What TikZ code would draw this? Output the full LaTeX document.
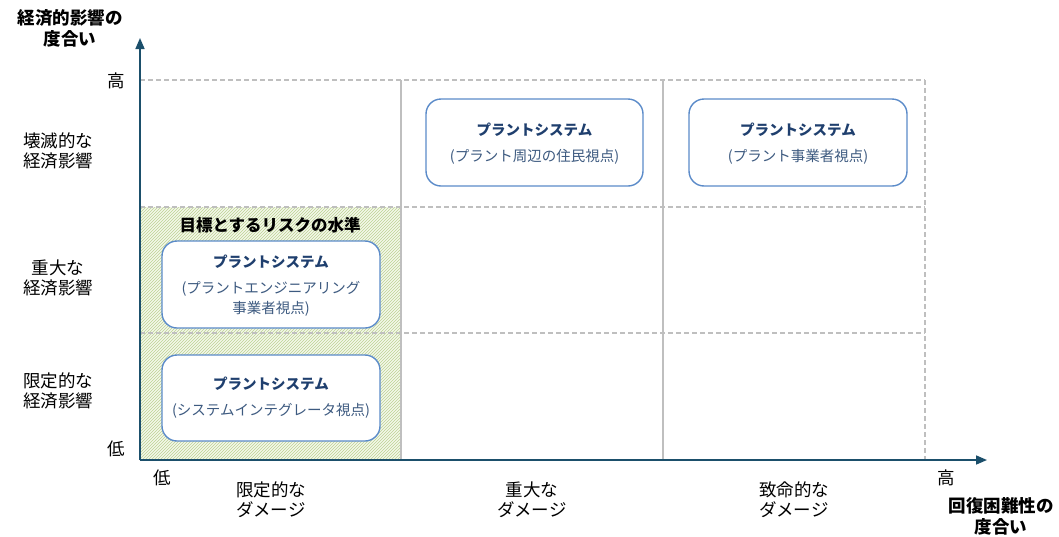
\documentclass[tikz,border=0pt]{standalone}
\usepackage{fontspec}
\setmainfont{Noto Sans CJK JP}
\usetikzlibrary{patterns,arrows.meta}
\definecolor{axiscol}{HTML}{1B4F6B}
\definecolor{gridcol}{HTML}{BFBFBF}
\definecolor{boxborder}{HTML}{5B8BC9}
\definecolor{titlecol}{HTML}{1F3F6E}
\definecolor{subcol}{HTML}{3D5A80}
\definecolor{hatchcol}{HTML}{BCD293}
\definecolor{hatchbg}{HTML}{F4F8EA}
\begin{document}
\begin{tikzpicture}[x=1pt,y=-1pt,
  ax/.style={draw=axiscol,line width=1.6pt,-{Triangle[length=11pt,width=9pt]}},
  gridsolid/.style={draw=gridcol,line width=1.3pt},
  griddash/.style={draw=gridcol,line width=1.3pt,dash pattern=on 5pt off 3pt},
  lbl/.style={font=\fontsize{17.5}{20}\selectfont,align=center,text=black},
  bold/.style={font=\fontsize{17.5}{21}\selectfont\bfseries,align=center,text=black},
  tbold/.style={font=\fontsize{16.5}{20}\selectfont\bfseries,align=center,text=black},
  pbox/.style={draw=boxborder,line width=1.4pt,fill=white,rounded corners=15pt},
  ptitle/.style={font=\fontsize{14.5}{16}\selectfont\bfseries,text=titlecol,align=center},
  psub/.style={font=\fontsize{14.5}{20}\selectfont,text=subcol,align=center}]
\useasboundingbox (0,0) rectangle (1059,536);
% hatched target region
\fill[hatchbg] (140,207) rectangle (401,460);
\fill[pattern={north east lines},pattern color=hatchcol] (140,207) rectangle (401,460);
% grid
\draw[griddash] (140,80) -- (925,80);
\draw[griddash] (925,80) -- (925,460);
\draw[griddash] (140,207) -- (925,207);
\draw[griddash] (140,333) -- (925,333);
\draw[gridsolid] (401,80) -- (401,460);
\draw[gridsolid] (663,80) -- (663,460);
% axes
\coordinate (o) at (140,460);
\coordinate (ytip) at (140,38);
\coordinate (xtip) at (987,460);
\draw[ax] (o) -- (ytip);
\draw[ax] (o) -- (xtip);
% axis titles
\node[bold] (ytitle) at (70,28) {経済的影響の\\度合い};
\node[bold] (xtitle) at (1001,516) {回復困難性の\\度合い};
% tick labels
\node[lbl] (yhigh) at (116,81) {高};
\node[lbl] (ylow) at (116,449) {低};
\node[lbl] (xlow) at (162,478) {低};
\node[lbl] (xhigh) at (946,478) {高};
% row labels
\node[lbl] (r1) at (58,151) {壊滅的な\\経済影響};
\node[lbl] (r2) at (58,278) {重大な\\経済影響};
\node[lbl] (r3) at (58,391) {限定的な\\経済影響};
% column labels
\node[lbl] (c1) at (271,500) {限定的な\\ダメージ};
\node[lbl] (c2) at (532,500) {重大な\\ダメージ};
\node[lbl] (c3) at (794,500) {致命的な\\ダメージ};
% target label
\node[tbold] (target) at (270,225) {目標とするリスクの水準};
% boxes
\draw[pbox] (426,99) rectangle (643,186);
\node[ptitle] (b1t) at (534.5,130) {プラントシステム};
\node[psub] (b1s) at (534.5,157) {(プラント周辺の住民視点)};
\draw[pbox] (689,99) rectangle (907,186);
\node[ptitle] (b2t) at (798,130) {プラントシステム};
\node[psub] (b2s) at (798,157) {(プラント事業者視点)};
\draw[pbox] (162,241) rectangle (380,328);
\node[ptitle] (b3t) at (271,262) {プラントシステム};
\node[psub] (b3s) at (271,299) {(プラントエンジニアリング\\事業者視点)};
\draw[pbox] (162,355) rectangle (380,441);
\node[ptitle] (b4t) at (271,384) {プラントシステム};
\node[psub] (b4s) at (271,411) {(システムインテグレータ視点)};
\end{tikzpicture}
\end{document}
